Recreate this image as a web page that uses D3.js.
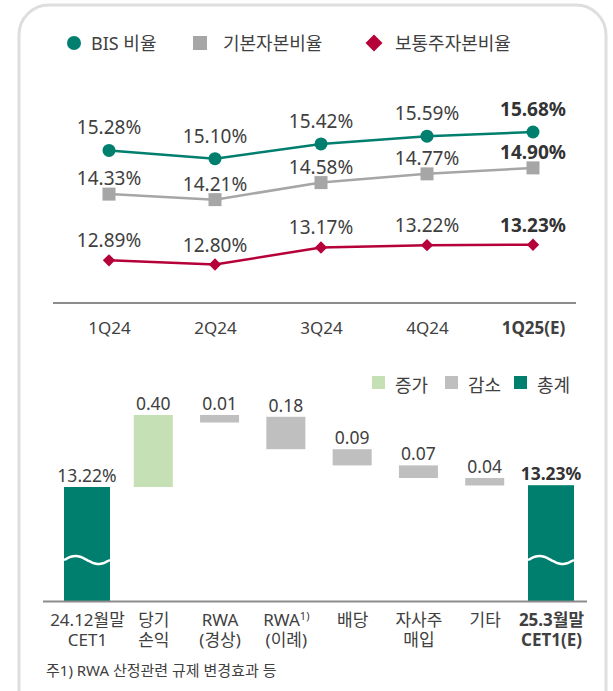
<!DOCTYPE html>
<html>
<head>
<meta charset="utf-8">
<script src="https://cdn.jsdelivr.net/npm/d3@7"></script>
<style>
    body { margin: 0; background: #fff; }
    text { font-family: "Noto Sans", "Noto Sans CJK KR", sans-serif; fill: #404040; }
</style>
</head>
<body>
<div id="chart"></div>
<script>
// ---- data ----
var quarters = ["1Q24", "2Q24", "3Q24", "4Q24", "1Q25(E)"];
var bisRatio = [15.28, 15.10, 15.42, 15.59, 15.68];
var tier1Ratio = [14.33, 14.21, 14.58, 14.77, 14.90];
var cet1Ratio = [12.89, 12.80, 13.17, 13.22, 13.23];
var seriesNames = ["BIS 비율", "기본자본비율", "보통주자본비율"];

var wfLine1 = ["24.12월말", "당기", "RWA", "RWA", "배당", "자사주", "기타", "25.3월말"];
var wfLine2 = ["CET1", "손익", "(경상)", "(이례)", "", "매입", "", "CET1(E)"];
var wfNotes = ["", "", "", "1)", "", "", "", ""];
var wfValues = [13.22, 0.40, -0.01, -0.18, -0.09, -0.07, -0.04, 13.23];
var wfTypes = ["total", "up", "down", "down", "down", "down", "down", "total"];
var wfLabels = ["13.22%", "0.40", "0.01", "0.18", "0.09", "0.07", "0.04", "13.23%"];
var wfLegend = ["증가", "감소", "총계"];
var footnote = "주1) RWA 산정관련 규제 변경효과 등";

// ---- styles ----
var W = 613, H = 691;
var teal = "#007f6e", gray = "#a6a6a6", red = "#b5003a";
var upColor = "#c5e0b4", downColor = "#bfbfbf";
var axisColor = "#8c8c8c";

var svg = d3.select("#chart").append("svg")
    .attr("width", W)
    .attr("height", H);

// card outline
svg.append("rect")
    .attr("x", 19).attr("y", 5)
    .attr("width", 587).attr("height", 760)
    .attr("rx", 30)
    .attr("fill", "#fff")
    .attr("stroke", "#dedede")
    .attr("stroke-width", 3);

// ---- top legend ----
var legendX = [67, 193, 366];
var series = [
    { name: seriesNames[0], values: bisRatio, color: teal, shape: "circle", off: 16 },
    { name: seriesNames[1], values: tier1Ratio, color: gray, shape: "square", off: 9 },
    { name: seriesNames[2], values: cet1Ratio, color: red, shape: "diamond", off: 13 }
];

var leg = svg.append("g").selectAll("g")
    .data(series)
    .enter().append("g")
    .attr("transform", function(d, i) { return "translate(" + legendX[i] + ",43)"; });

leg.each(function(d) {
    var g = d3.select(this);
    if (d.shape === "circle") {
        g.append("circle").attr("cx", 7).attr("r", 7).attr("fill", d.color);
    } else if (d.shape === "square") {
        g.append("rect").attr("x", 0).attr("y", -7).attr("width", 14).attr("height", 14).attr("fill", d.color);
    } else {
        g.append("path")
            .attr("d", d3.symbol(d3.symbolSquare, 144)())
            .attr("transform", "translate(8,0) rotate(45)")
            .attr("fill", d.color);
    }
});
leg.append("text")
    .attr("x", function(d, i) { return i === 0 ? 24 : (i === 1 ? 30 : 29); })
    .attr("y", 7)
    .attr("font-size", 18)
    .text(function(d) { return d.name; });

// ---- line chart ----
var x = d3.scalePoint().domain(quarters).range([109, 533]);
var y = d3.scaleLinear().domain([12.80, 15.68]).range([264.5, 132]);

svg.append("line")
    .attr("x1", 53).attr("x2", 576)
    .attr("y1", 303).attr("y2", 303)
    .attr("stroke", axisColor)
    .attr("stroke-width", 2);

var xAxis = svg.append("g")
    .attr("transform", "translate(0,303)")
    .call(d3.axisBottom(x).tickSize(0));
xAxis.select(".domain").remove();
xAxis.selectAll("text")
    .attr("y", 31).attr("dy", 0)
    .attr("font-size", 17)
    .attr("font-family", null)
    .style("fill", "#404040")
    .attr("font-weight", function(d, i) { return i === quarters.length - 1 ? "bold" : null; });

var line = d3.line()
    .x(function(d, i) { return x(quarters[i]); })
    .y(function(d) { return y(d); });

series.forEach(function(s) {
    svg.append("path")
        .datum(s.values)
        .attr("d", line)
        .attr("fill", "none")
        .attr("stroke", s.color)
        .attr("stroke-width", 2.5);

    var pts = svg.append("g").selectAll("g")
        .data(s.values)
        .enter().append("g")
        .attr("transform", function(d, i) { return "translate(" + x(quarters[i]) + "," + y(d) + ")"; });

    if (s.shape === "circle") {
        pts.append("circle").attr("r", 6.5).attr("fill", s.color);
    } else if (s.shape === "square") {
        pts.append("rect").attr("x", -6.5).attr("y", -6.5).attr("width", 13).attr("height", 13).attr("fill", s.color);
    } else {
        pts.append("path")
            .attr("d", d3.symbol(d3.symbolSquare, 76)())
            .attr("transform", "rotate(45)")
            .attr("fill", s.color);
    }

    svg.append("g").selectAll("text")
        .data(s.values)
        .enter().append("text")
        .attr("x", function(d, i) { return x(quarters[i]); })
        .attr("y", function(d) { return y(d) - s.off; })
        .attr("text-anchor", "middle")
        .attr("font-size", 19)
        .attr("font-weight", function(d, i) { return i === s.values.length - 1 ? "bold" : null; })
        .style("fill", function(d, i) { return i === s.values.length - 1 ? "#333" : "#404040"; })
        .text(function(d) { return d.toFixed(2) + "%"; });
});

// ---- waterfall ----
var wfIdx = d3.range(wfValues.length);
var wx = d3.scalePoint().domain(wfIdx).range([87, 551]);
var wy = d3.scaleLinear().domain([13.22, 13.62]).range([487, 415]);
var baseY = 601.5;
var minH = 7.5;

var bars = [];
var running = wfValues[0];
wfIdx.forEach(function(i) {
    var v = wfValues[i], t = wfTypes[i], top, bottom;
    if (t === "total") {
        top = wy(v); bottom = baseY; running = v;
    } else if (t === "up") {
        top = wy(running + v); bottom = wy(running); running += v;
    } else {
        top = wy(running); bottom = Math.max(wy(running + v), top + minH); running += v;
    }
    bars.push({ i: i, type: t, top: top, bottom: bottom, w: t === "total" ? 46 : 39 });
});

var colorOf = { up: upColor, down: downColor, total: teal };

svg.append("g").selectAll("rect")
    .data(bars)
    .enter().append("rect")
    .attr("x", function(d) { return wx(d.i) - d.w / 2; })
    .attr("y", function(d) { return d.top; })
    .attr("width", function(d) { return d.w; })
    .attr("height", function(d) { return d.bottom - d.top; })
    .attr("fill", function(d) { return colorOf[d.type]; });

// break mark on total bars
var wave = d3.line().curve(d3.curveBasis);
bars.filter(function(d) { return d.type === "total"; }).forEach(function(d) {
    var left = wx(d.i) - d.w / 2;
    var pts = d3.range(0, 1.0001, 0.05).map(function(t) {
        return [left + t * d.w, 560 - 4 * Math.sin(2 * Math.PI * t)];
    });
    svg.append("path")
        .attr("d", wave(pts))
        .attr("fill", "none")
        .attr("stroke", "#fff")
        .attr("stroke-width", 2.5);
});

svg.append("g").selectAll("text")
    .data(bars)
    .enter().append("text")
    .attr("x", function(d) { return wx(d.i); })
    .attr("y", function(d) { return d.top - 5; })
    .attr("text-anchor", "middle")
    .attr("font-size", 17.5)
    .attr("font-weight", function(d) { return d.i === wfIdx.length - 1 ? "bold" : null; })
    .style("fill", function(d) { return d.i === wfIdx.length - 1 ? "#333" : "#404040"; })
    .text(function(d) { return wfLabels[d.i]; });

svg.append("line")
    .attr("x1", 43).attr("x2", 587)
    .attr("y1", baseY).attr("y2", baseY)
    .attr("stroke", axisColor)
    .attr("stroke-width", 2);

var wAxis = svg.append("g")
    .attr("transform", "translate(0," + baseY + ")")
    .call(d3.axisBottom(wx).tickSize(0).tickFormat(function(d) { return wfLine1[d]; }));
wAxis.select(".domain").remove();
wAxis.selectAll(".tick").each(function(d) {
    var g = d3.select(this);
    var bold = d === wfIdx.length - 1 ? "bold" : null;
    var t = g.select("text")
        .attr("y", 24).attr("dy", 0)
        .attr("font-size", 17)
        .attr("font-family", null)
        .style("fill", "#404040")
        .attr("font-weight", bold);
    if (wfNotes[d]) {
        t.append("tspan").attr("dy", -6).attr("font-size", 11).text(wfNotes[d]);
    }
    if (wfLine2[d]) {
        g.append("text")
            .attr("y", 44)
            .attr("text-anchor", "middle")
            .attr("font-size", 17)
            .attr("font-weight", bold)
            .style("fill", "#404040")
            .text(wfLine2[d]);
    }
});

// waterfall legend
var wlX = [372, 445, 514];
var wlColors = [upColor, downColor, teal];
var wl = svg.append("g").selectAll("g")
    .data(wfLegend)
    .enter().append("g")
    .attr("transform", function(d, i) { return "translate(" + wlX[i] + ",376)"; });
wl.append("rect")
    .attr("width", 13).attr("height", 13)
    .attr("fill", function(d, i) { return wlColors[i]; });
wl.append("text")
    .attr("x", 23).attr("y", 16)
    .attr("font-size", 18)
    .text(function(d) { return d; });

// footnote
svg.append("text")
    .attr("x", 46).attr("y", 676)
    .attr("font-size", 15)
    .text(footnote);
</script>
</body>
</html>
